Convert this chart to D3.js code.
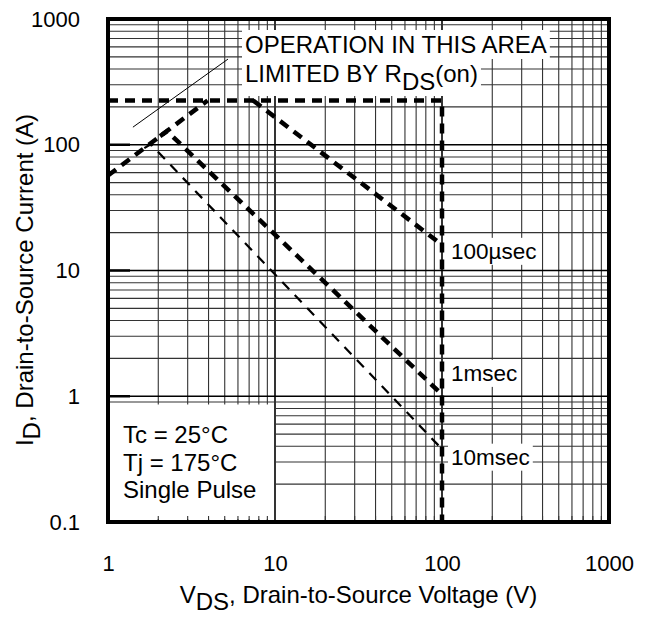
<!DOCTYPE html>
<html>
<head>
<meta charset="utf-8">
<script src="https://cdn.jsdelivr.net/npm/d3@7"></script>
<style>
  body { margin: 0; background: #fff; }
  svg text { font-family: "Liberation Sans", Arial, sans-serif; fill: #000; }
</style>
</head>
<body>
<svg id="chart" width="655" height="617"></svg>
<script>
// axis ticks
const xTicks = [1, 10, 100, 1000];
const yTicks = [0.1, 1, 10, 100, 1000];

// SOA boundaries, [VDS (V), ID (A)]
const rdsLimit = [[1, 57], [3.95, 225]];
const currentLimit = [[1, 225], [100, 225], [100, 0.1]];
const pulse100us = [[7.4, 225], [100, 16]];
const pulse1ms = [[2.05, 117], [2.26, 128], [100, 1.03]];
const pulse10ms = [[1.65, 94], [1.8, 101], [100, 0.38]];
const leader = [[1.41, 138], [5.23, 480]];

const curveLabels = ['100\u00b5sec', '1msec', '10msec'];
const curveLabelY = [14.3, 1.53, 0.33];
const noteLines = ['Tc = 25\u00b0C', 'Tj = 175\u00b0C', 'Single Pulse'];

const svg = d3.select('#chart');
const margin = {left: 108, right: 46, top: 19, bottom: 95};
const W = 655, H = 617;

const x = d3.scaleLog().domain([1, 1000]).range([margin.left, W - margin.right]);
const y = d3.scaleLog().domain([0.1, 1000]).range([H - margin.bottom, margin.top]);

// grid values
const minorVals = function(lo, hi){
    var out = [];
    for (var d = lo; d < hi; d *= 10) {
        for (var k = 1; k < 10; k++) out.push(+(k*d).toPrecision(3));
    }
    out.push(hi);
    return out;
};
const xGrid = minorVals(1, 1000);
const yGrid = minorVals(0.1, 1000);
const isMajor = v => Math.abs(Math.log10(v) - Math.round(Math.log10(v))) < 1e-6;

const grid = svg.append('g');
grid.selectAll('line.vx')
    .data(xGrid)
    .enter()
  .append('line')
    .attr('x1', d => x(d)).attr('x2', d => x(d))
    .attr('y1', y(0.1)).attr('y2', y(1000))
    .attr('stroke', d => isMajor(d) ? '#000' : '#333')
    .attr('stroke-width', d => isMajor(d) ? 1.6 : 1.1);
grid.selectAll('line.hy')
    .data(yGrid)
    .enter()
  .append('line')
    .attr('y1', d => y(d)).attr('y2', d => y(d))
    .attr('x1', x(1)).attr('x2', x(1000))
    .attr('stroke', d => isMajor(d) ? '#000' : '#333')
    .attr('stroke-width', d => isMajor(d) ? 1.6 : 1.1);

const boxes = svg.append('g');
const texts = svg.append('g');

// white label boxes behind text
const addBoxed = function(node, pad){
    const bb = node.getBBox();
    boxes.append('rect')
        .attr('x', bb.x - pad).attr('y', bb.y - 1)
        .attr('width', bb.width + 2*pad).attr('height', bb.height + 2)
        .attr('fill', '#fff');
};

// Tc box
boxes.append('rect')
    .attr('x', x(1) + 2).attr('y', y(0.86))
    .attr('width', x(10) - x(1) - 3).attr('height', y(0.1) - y(0.86) - 3)
    .attr('fill', '#fff');

// annotation text
const note1 = texts.append('text')
    .attr('x', 245).attr('y', 53)
    .style('font-size', '24px')
    .text('OPERATION IN THIS AREA');
addBoxed(note1.node(), 3);
const note2 = texts.append('text')
    .attr('x', 245).attr('y', 82)
    .style('font-size', '24px');
note2.append('tspan').text('LIMITED BY R');
note2.append('tspan').attr('dy', 8).text('DS');
note2.append('tspan').attr('dy', -8).text('(on)');
addBoxed(note2.node(), 3);

// curve labels
curveLabels.forEach(function(t, i){
    const el = texts.append('text')
        .attr('x', x(100) + 9)
        .attr('y', y(curveLabelY[i]))
        .attr('dy', '0.35em')
        .style('font-size', '22.5px')
        .text(t);
    addBoxed(el.node(), 3);
});

// conditions
texts.selectAll('text.note')
    .data(noteLines)
    .enter()
  .append('text')
    .attr('x', 123)
    .attr('y', (d, i) => 443 + i*27.5)
    .style('font-size', '24px')
    .text(d => d);

// ticks inside frame
const tickG = svg.append('g');
tickG.selectAll('line.bt')
    .data(xGrid.filter(d => !isMajor(d)))
    .enter()
  .append('line')
    .attr('x1', d => x(d)).attr('x2', d => x(d))
    .attr('y1', y(0.1)).attr('y2', y(0.1) - 6)
    .attr('stroke', '#333').attr('stroke-width', 1.1);
tickG.selectAll('line.lt')
    .data([1, 10, 100])
    .enter()
  .append('line')
    .attr('x1', x(1)).attr('x2', x(1) + 22)
    .attr('y1', d => y(d)).attr('y2', d => y(d))
    .attr('stroke', '#000').attr('stroke-width', 2.5);

// curves
const line = d3.line().x(d => x(d[0])).y(d => y(d[1]));
const thick = [rdsLimit, currentLimit, pulse100us, pulse1ms];
svg.append('g').selectAll('path')
    .data(thick)
    .enter()
  .append('path')
    .attr('d', line)
    .attr('fill', 'none')
    .attr('stroke', '#000')
    .attr('stroke-width', 4.5)
    .attr('stroke-dasharray', '10,7');
svg.append('path')
    .attr('d', line(pulse10ms))
    .attr('fill', 'none')
    .attr('stroke', '#000')
    .attr('stroke-width', 2.2)
    .attr('stroke-dasharray', '10,8');
svg.append('path')
    .attr('d', line(leader))
    .attr('fill', 'none')
    .attr('stroke', '#000')
    .attr('stroke-width', 1);

// frame
svg.append('rect')
    .attr('x', x(1)).attr('y', y(1000))
    .attr('width', x(1000) - x(1)).attr('height', y(0.1) - y(1000))
    .attr('fill', 'none')
    .attr('stroke', '#000')
    .attr('stroke-width', 4);

// axes
const fmt = d => d < 1 ? '0.1' : String(d);
const xAxis = svg.append('g')
    .attr('transform', 'translate(0,' + y(0.1) + ')')
    .call(d3.axisBottom(x).tickValues(xTicks).tickFormat(fmt).tickSize(0).tickPadding(33));
const yAxis = svg.append('g')
    .attr('transform', 'translate(' + x(1) + ',0)')
    .call(d3.axisLeft(y).tickValues(yTicks).tickFormat(fmt).tickSize(0).tickPadding(28));
[xAxis, yAxis].forEach(function(a){
    a.select('.domain').remove();
    a.selectAll('text')
        .style('font-size', '22px')
        .style('font-family', '"Liberation Sans", Arial, sans-serif')
        .attr('fill', '#000');
});

// axis titles
const xTitle = svg.append('text')
    .attr('x', (x(1) + x(1000))/2)
    .attr('y', 603)
    .attr('text-anchor', 'middle')
    .style('font-size', '24px');
xTitle.append('tspan').text('V');
xTitle.append('tspan').attr('dy', 7).text('DS');
xTitle.append('tspan').attr('dy', -7).text(', Drain-to-Source Voltage (V)');

const yTitle = svg.append('text')
    .attr('transform', 'translate(33,' + 280 + ') rotate(-90)')
    .attr('text-anchor', 'middle')
    .style('font-size', '24px');
yTitle.append('tspan').text('I');
yTitle.append('tspan').attr('dy', 7).text('D');
yTitle.append('tspan').attr('dy', -7).text(', Drain-to-Source Current (A)');
</script>
</body>
</html>
